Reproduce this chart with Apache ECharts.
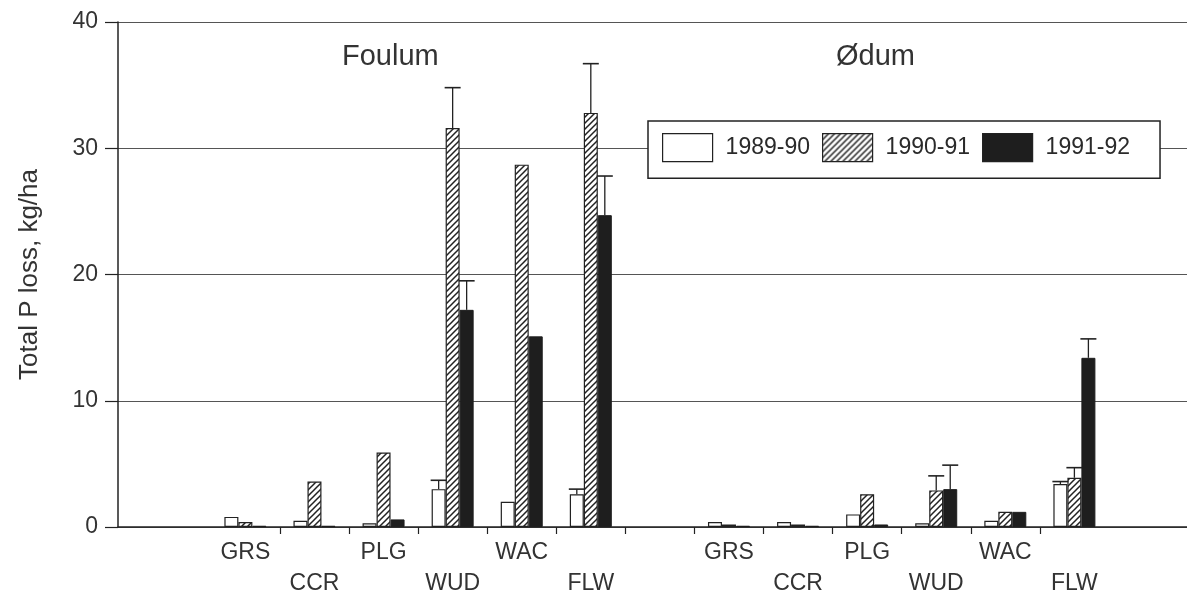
<!DOCTYPE html>
<html>
<head>
<meta charset="utf-8">
<script src="https://cdn.jsdelivr.net/npm/echarts@6/dist/echarts.min.js"></script>
<style>html,body{margin:0;padding:0;background:#fff}#c{width:1187px;height:602px}</style>
</head>
<body>
<div id="c"></div>
<script>
// ---- data ----
const sites = ['Foulum', 'Ødum'];
const treatments = ['GRS', 'CCR', 'PLG', 'WUD', 'WAC', 'FLW'];
const seriesNames = ['1989-90', '1990-91', '1991-92'];
// values: Foulum (6) then Ødum (6)
const loss8990 = [0.8, 0.5, 0.3, 3.0, 2.0, 2.6,   0.4, 0.4, 1.0, 0.3, 0.5, 3.4];
const loss9091 = [0.4, 3.6, 5.9, 31.6, 28.7, 32.8, 0.2, 0.2, 2.6, 2.9, 1.2, 3.9];
const loss9192 = [0.1, 0.1, 0.6, 17.2, 15.1, 24.7, 0.1, 0.1, 0.2, 3.0, 1.2, 13.4];
// upper end of error bars (null = none)
const err8990 = [null, null, null, 3.7, null, 3.0,   null, null, null, null, null, 3.6];
const err9091 = [null, null, null, 34.8, null, 36.7, null, null, null, 4.05, null, 4.7];
const err9192 = [null, null, null, 19.5, null, 27.8, null, null, null, 4.9, null, 14.9];
const yTicks = [0, 10, 20, 30, 40];

// ---- layout helpers ----
const FONT = "'Liberation Sans', Arial, sans-serif";
const BAR_W = 14;
// position of each bar group on the value x-axis (Foulum 0..5, gap, Ødum 7..12)
const positions = [];
const labelsByPos = {};
sites.forEach((s, si) => treatments.forEach((t, ti) => {
  const p = si * 7 + ti;
  positions.push(p);
  labelsByPos[p] = { name: t, row: ti % 2 };
}));
const tickPos = [0.5, 1.5, 2.5, 3.5, 4.5, 5.5, 6.5, 7.5, 8.5, 9.5, 10.5, 11.5];

function hatch() {
  const c = document.createElement('canvas');
  c.width = 6; c.height = 6;
  const g = c.getContext('2d');
  g.fillStyle = '#fff'; g.fillRect(0, 0, 6, 6);
  g.strokeStyle = '#222'; g.lineWidth = 1.5;
  g.beginPath();
  g.moveTo(-1, 7); g.lineTo(7, -1);
  g.moveTo(-4, 4); g.lineTo(4, -4);
  g.moveTo(2, 10); g.lineTo(10, 2);
  g.stroke();
  return { image: c, repeat: 'repeat' };
}

const valueLists = [loss8990, loss9091, loss9192];
const errLists = [err8990, err9091, err9192];
const styles = [
  { color: '#fff', borderColor: '#222', borderWidth: 1.2 },
  { color: hatch(), borderColor: '#222', borderWidth: 1.2 },
  { color: '#1e1e1e', borderColor: '#1e1e1e', borderWidth: 1 }
];

const barSeries = seriesNames.map((n, k) => ({
  name: n,
  type: 'bar',
  barWidth: BAR_W,
  barGap: '0%',
  itemStyle: styles[k],
  data: positions.map((p, i) => [p, valueLists[k][i]]),
  z: 2
}));

const errData = [];
errLists.forEach((lst, k) => lst.forEach((hi, i) => {
  if (hi != null) errData.push([positions[i], k, hi, valueLists[k][i]]);
}));

const errSeries = {
  name: 'err',
  type: 'custom',
  z: 3,
  encode: { x: 0, y: 2 },
  data: errData,
  renderItem: function (params, api) {
    const x = api.value(0), k = api.value(1), hi = api.value(2), v = api.value(3);
    const b = api.coord([x, v]);
    const t = api.coord([x, hi]);
    const cx = b[0] + (k - 1) * BAR_W;
    return {
      type: 'group',
      children: [
        { type: 'line', shape: { x1: cx, y1: b[1], x2: cx, y2: t[1] }, style: { stroke: '#222', lineWidth: 1.3 } },
        { type: 'line', shape: { x1: cx - 8, y1: t[1], x2: cx + 8, y2: t[1] }, style: { stroke: '#222', lineWidth: 1.6 } }
      ]
    };
  }
};

const chart = echarts.init(document.getElementById('c'), null, { renderer: 'canvas' });
chart.setOption({
  animation: false,
  backgroundColor: '#fff',
  textStyle: { fontFamily: FONT },
  grid: { left: 118, right: 0, top: 22, bottom: 75 },
  legend: {
    data: seriesNames,
    left: 648, top: 121,
    itemWidth: 50, itemHeight: 28, itemGap: 12,
    icon: 'rect',
    padding: [12, 30, 16, 14],
    borderColor: '#222', borderWidth: 1.5,
    backgroundColor: '#fff',
    itemStyle: { borderColor: '#222', borderWidth: 1.2 },
    textStyle: { fontSize: 23, color: '#2a2a2a', fontFamily: FONT, padding: [0, 0, 0, 8] }
  },
  graphic: [
    { type: 'text', x: 342, y: 57, style: { text: sites[0], fontSize: 29, fill: '#333', fontFamily: FONT, verticalAlign: 'middle' } },
    { type: 'text', x: 836, y: 57, style: { text: sites[1], fontSize: 29, fill: '#333', fontFamily: FONT, verticalAlign: 'middle' } }
  ],
  xAxis: {
    type: 'value',
    min: -1.844, max: 13.63,
    splitLine: { show: false },
    axisLine: { show: true, onZero: false, lineStyle: { color: '#222', width: 1.5 } },
    axisTick: { show: true, length: 7, customValues: tickPos, lineStyle: { color: '#222', width: 1.2 } },
    axisLabel: {
      customValues: positions,
      fontSize: 23, color: '#333', lineHeight: 31, margin: 10,
      formatter: function (v) {
        const l = labelsByPos[Math.round(v)];
        if (!l) return '';
        return (l.row ? '\n' : '') + l.name;
      }
    }
  },
  yAxis: {
    type: 'value',
    min: yTicks[0], max: yTicks[yTicks.length - 1], interval: 10,
    name: 'Total P loss, kg/ha',
    nameLocation: 'middle', nameGap: 75,
    nameTextStyle: { fontSize: 26, color: '#333', fontFamily: FONT },
    axisLine: { show: true, onZero: false, lineStyle: { color: '#222', width: 1.5 } },
    axisTick: { show: true, length: 13, lineStyle: { color: '#222', width: 1.2 } },
    axisLabel: { fontSize: 23, color: '#333', margin: 20 },
    splitLine: { show: true, lineStyle: { color: '#555', width: 1.2 } }
  },
  series: barSeries.concat([errSeries])
});
</script>
</body>
</html>
